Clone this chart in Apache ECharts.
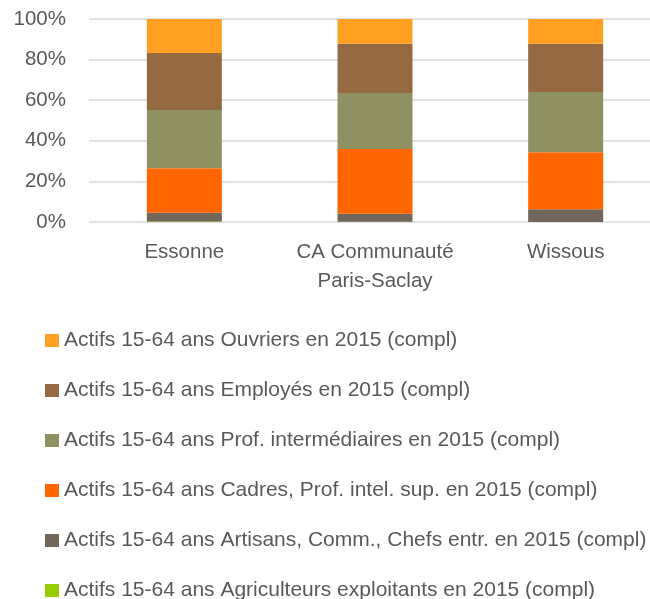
<!DOCTYPE html>
<html>
<head>
<meta charset="utf-8">
<title>Actifs 15-64 ans par catégorie socioprofessionnelle en 2015</title>
<script src="https://cdn.jsdelivr.net/npm/echarts@6/dist/echarts.min.js"></script>
<style>
  html, body { margin: 0; padding: 0; background: #ffffff; overflow: hidden; }
  /* the plot area and the last legend row run past the page edges, as in the source layout */
  #chart { width: 661px; height: 620px; }
</style>
</head>
<body>
<div id="chart"></div>
<script>
// Territories compared
const categories = ['Essonne', 'CA Communauté\nParis-Saclay', 'Wissous'];

// Share of active population (15-64) by socio-professional category, in %
const agriculteurs = [0.2, 0.1, 0.0];
const artisans     = [4.4, 4.0, 6.3];
const cadres       = [21.9, 31.9, 28.0];
const profInter    = [28.7, 27.5, 29.7];
const employes     = [28.1, 24.3, 23.8];
const ouvriers     = [16.7, 12.2, 12.2];

// Percentage axis ticks
const yTicks = { min: 0, max: 100, interval: 20 };

const seriesDefs = [
  { name: 'Actifs 15-64 ans Agriculteurs exploitants en 2015 (compl)', data: agriculteurs, color: '#99CC00' },
  { name: 'Actifs 15-64 ans Artisans, Comm., Chefs entr. en 2015 (compl)', data: artisans, color: '#72665A' },
  { name: 'Actifs 15-64 ans Cadres, Prof. intel. sup. en 2015 (compl)', data: cadres, color: '#FF6600' },
  { name: 'Actifs 15-64 ans Prof. intermédiaires en 2015 (compl)', data: profInter, color: '#8F9162' },
  { name: 'Actifs 15-64 ans Employés en 2015 (compl)', data: employes, color: '#956A43' },
  { name: 'Actifs 15-64 ans Ouvriers en 2015 (compl)', data: ouvriers, color: '#FFA022' }
];

const textColor = '#595959';
const fontFamily = '"Liberation Sans", Arial, sans-serif';

const chart = echarts.init(document.getElementById('chart'), null, { renderer: 'canvas' });

chart.setOption({
  animation: false,
  backgroundColor: '#ffffff',
  textStyle: { fontFamily: fontFamily, color: textColor },
  grid: { left: 89, top: 19, right: 0, height: 203, containLabel: false },
  xAxis: {
    type: 'category',
    data: categories,
    axisLine: { show: false },
    axisTick: { show: false },
    axisLabel: {
      color: textColor,
      fontFamily: fontFamily,
      fontSize: 20.5,
      lineHeight: 29,
      margin: 16,
      interval: 0
    }
  },
  yAxis: {
    type: 'value',
    min: yTicks.min,
    max: yTicks.max,
    interval: yTicks.interval,
    axisLine: { show: false },
    axisTick: { show: false },
    axisLabel: {
      formatter: '{value}%',
      color: textColor,
      fontFamily: fontFamily,
      fontSize: 20.5,
      padding: [6, 0, 0, 0],
      margin: 23
    },
    splitLine: { lineStyle: { color: '#D9D9D9', width: 1.5 } }
  },
  legend: {
    orient: 'vertical',
    left: 45,
    top: 330,
    padding: 0,
    itemWidth: 14,
    itemHeight: 13,
    itemGap: 29,
    icon: 'rect',
    data: seriesDefs.map(s => s.name).reverse(),
    textStyle: {
      color: textColor,
      fontFamily: fontFamily,
      fontSize: 21,
      lineHeight: 21
    }
  },
  series: seriesDefs.map(s => ({
    name: s.name,
    type: 'bar',
    stack: 'total',
    barWidth: 75,
    data: s.data,
    itemStyle: { color: s.color }
  }))
});
</script>
</body>
</html>
